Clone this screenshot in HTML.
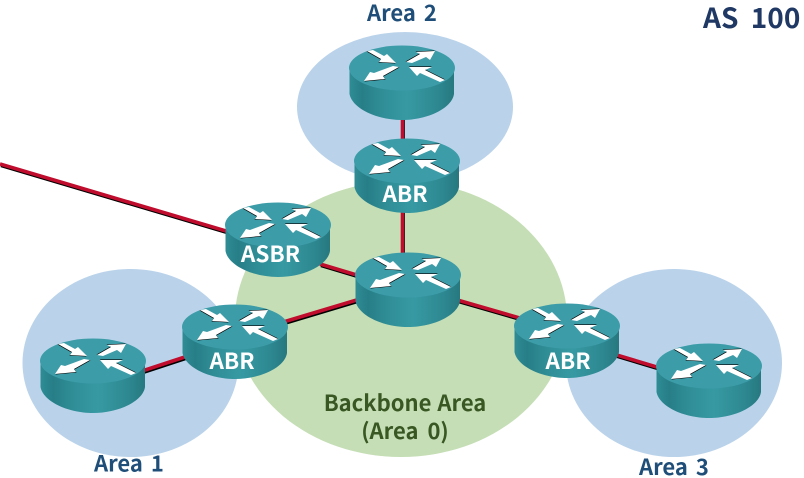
<!DOCTYPE html>
<html><head><meta charset="utf-8"><style>
html,body{margin:0;padding:0;background:#fff;width:804px;height:478px;overflow:hidden}
svg{display:block}
text{font-family:"Noto Sans CJK KR","Liberation Sans",sans-serif;font-weight:700}
.a{fill:#1f4e79;font-size:22px;word-spacing:3px}
.w{fill:#fff;font-size:22.5px;text-anchor:middle;font-weight:700}
</style></head><body>
<svg width="804" height="478" viewBox="0 0 804 478" xmlns="http://www.w3.org/2000/svg">
<defs>
<linearGradient id="s" x1="0" x2="1" y1="0" y2="0">
<stop offset="0" stop-color="#2f8c95"/><stop offset=".12" stop-color="#277e87"/><stop offset=".3" stop-color="#2f8d96"/><stop offset=".55" stop-color="#379aa3"/><stop offset=".85" stop-color="#2d8790"/><stop offset="1" stop-color="#27787f"/>
</linearGradient>
<symbol id="r" width="106" height="75" viewBox="0 0 106 75" overflow="visible">
<path d="M0.5 22V48C3 62 27 74 53 74S103 62 105 48V22Z" fill="url(#s)"/>
<ellipse cx="53" cy="22" rx="53" ry="22.5" fill="#3c9ca8"/>
<g fill="#000">
<polygon points="18,5 24,4 35,10 38,8 47,17 30,16 32,13" transform="translate(-.5,.5)"/>
<polygon points="57,16 71,8 67,6 86,5 81,14 77,11 63,17" transform="translate(-.5,-.5)"/>
<polygon points="50,21 34,30 36,33 15,35 21,26 25,27 44,20" transform="translate(.5,.5)"/>
<polygon points="60,21 83,21 76,24 96,34 91,36 71,27 68,30" transform="translate(0,-.6)"/>
</g>
<g fill="#fff">
<polygon points="18,5 24,4 35,10 38,8 47,17 30,16 32,13"/>
<polygon points="57,16 71,8 67,6 86,5 81,14 77,11 63,17"/>
<polygon points="50,21 34,30 36,33 15,35 21,26 25,27 44,20"/>
<polygon points="60,21 83,21 76,24 96,34 91,36 71,27 68,30"/>
</g>
</symbol>
</defs>
<ellipse cx="405" cy="107" rx="108" ry="75" fill="#bad3ea"/>
<ellipse cx="130.5" cy="363" rx="108" ry="94" fill="#bad3ea"/>
<ellipse cx="674" cy="363" rx="108" ry="94" fill="#bad3ea"/>
<ellipse cx="401" cy="319" rx="166" ry="138" fill="#c5deb5"/>

<g fill="none" stroke-linecap="butt">
<g stroke="#000" stroke-width="3" transform="translate(0.9,1.7)">
<path d="M0 164L226 231M320 264L370 279M402.5 100V150M402.5 205V262M280 323L370 296M130 375L200 352M440 295L530 321M600 350L680 374"/>
</g>
<g stroke="#c00d2e" stroke-width="3.6">
<path d="M0 164L226 231M320 264L370 279M402.5 100V150M402.5 205V262M280 323L370 296M130 375L200 352M440 295L530 321M600 350L680 374"/>
</g>
</g>

<use href="#r" x="349" y="46"/>
<use href="#r" x="354" y="139"/>
<use href="#r" x="225" y="203"/>
<use href="#r" x="355" y="253"/>
<use href="#r" x="182" y="305"/>
<use href="#r" x="40" y="339"/>
<use href="#r" x="514" y="304"/>
<use href="#r" x="656" y="344"/>

<text class="w" x="405" y="202">ABR</text>
<text class="w" x="270.5" y="262">ASBR</text>
<text class="w" x="232" y="369">ABR</text>
<text class="w" x="568" y="369">ABR</text>

<text class="a" x="367" y="21">Area 2</text>
<text class="a" x="94" y="471.500">Area 1</text>
<text class="a" x="639" y="475">Area 3</text>
<text x="703" y="28" style="fill:#1f3864;font-size:28px;word-spacing:6px">AS 100</text>
<text x="405" y="411" text-anchor="middle" style="fill:#385723;font-size:22px;word-spacing:1px">Backbone Area</text>
<text x="405" y="439" text-anchor="middle" style="fill:#385723;font-size:22px;word-spacing:4px">(Area 0)</text>
</svg>
</body></html>
